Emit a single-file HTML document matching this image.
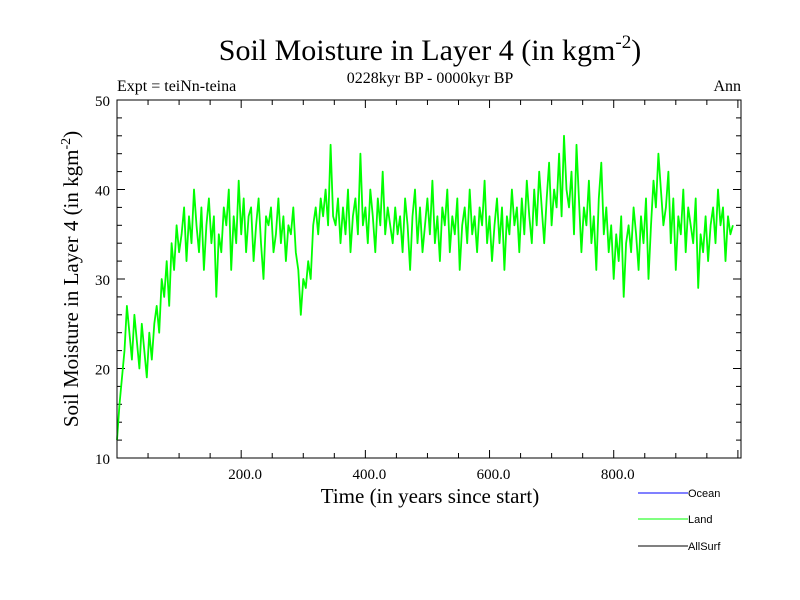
<!DOCTYPE html>
<html><head><meta charset="utf-8"><style>
body{margin:0;background:#fff;}
svg{display:block;font-family:"Liberation Serif",serif;}
.sans{font-family:"Liberation Sans",sans-serif;}
</style></head><body>
<svg id="chart" width="800" height="600" viewBox="0 0 800 600">
<rect width="800" height="600" fill="#fff"/>
<text x="430" y="60" font-size="30" text-anchor="middle">Soil Moisture in Layer 4 (in kgm<tspan dy="-12" font-size="19">-2</tspan><tspan dy="12">)</tspan></text>
<text x="117" y="91" font-size="16">Expt = teiNn-teina</text>
<text x="430" y="83" font-size="16" text-anchor="middle">0228kyr BP - 0000kyr BP</text>
<text x="741" y="91" font-size="16" text-anchor="end">Ann</text>
<g id="grid"></g>
<polyline id="land" fill="none" stroke="#00ff00" stroke-width="1.8" stroke-linejoin="round"/>
<rect x="117" y="100" width="624" height="358" fill="none" stroke="#000" stroke-width="1"/>
<text x="430" y="503" font-size="21" text-anchor="middle">Time (in years since start)</text>
<text transform="translate(78,279) rotate(-90)" font-size="21" text-anchor="middle">Soil Moisture in Layer 4 (in kgm<tspan dy="-8" font-size="14">-2</tspan><tspan dy="8">)</tspan></text>
<g class="sans" font-size="11">
<line x1="638" y1="493" x2="688" y2="493" stroke="#0000ff"/>
<text x="688" y="497">Ocean</text>
<line x1="638" y1="519" x2="688" y2="519" stroke="#00ff00"/>
<text x="688" y="523">Land</text>
<line x1="638" y1="546" x2="688" y2="546" stroke="#000"/>
<text x="688" y="550">AllSurf</text>
</g>
</svg>
<script>
const xTicks=[200,400,600,800];
const xTickLabels=["200.0","400.0","600.0","800.0"];
const yTicks=[10,20,30,40,50];
const yTickLabels=["10","20","30","40","50"];
const landStep=4;
const landValues=[12,16,19,22,27,24,21,26,23,20,25,22,19,24,21,25,27,24,30,28,32,27,34,31,36,33,
35,38,32,37,34,40,36,33,38,31,36,39,34,37,28,35,33,38,36,40,31,37,34,41,35,39,33,37,38,32,36,39,34,30,37,36,38,33,35,39,34,37,32,36,35,38,33,
31,26,30,29,32,30,
36,38,35,39,37,40,36,45,
37,36,39,34,38,35,40,33,37,39,35,44,36,38,34,40,37,33,39,36,42,35,38,36,34,38,35,37,33,39,36,31,37,40,34,38,33,36,39,35,41,34,37,32,38,36,40,33,37,35,39,31,36,38,34,40,35,37,33,38,36,41,34,37,32,36,39,34,38,31,37,35,40,36,38,33,39,35,41,37,34,40,36,42,38,34,39,43,36,40,38,44,37,46,40,38,42,35,45,39,33,38,36,41,34,37,31,39,43,35,38,33,36,30,35,32,37,28,34,36,33,38,35,31,37,34,39,30,36,41,38,44,40,36,38,42,34,39,31,37,35,40,33,38,36,34,39,29,35,33,37,32,36,38,34,40,36,38,32,37,35,36];
const X0=117,X1=741,Y0=458,Y1=100,XMIN=0,XMAX=1005,YMIN=10,YMAX=50;
const xs=v=>X0+(v-XMIN)/(XMAX-XMIN)*(X1-X0);
const ys=v=>Y0-(v-YMIN)/(YMAX-YMIN)*(Y0-Y1);
const NS="http://www.w3.org/2000/svg";
const g=document.getElementById('grid');
function mk(tag,attrs){const e=document.createElementNS(NS,tag);for(const k in attrs)e.setAttribute(k,attrs[k]);g.appendChild(e);return e;}
for(let v=0;v<=XMAX;v+=50){const x=xs(v);const L=v%200===0?8:5;
 const t1=mk('line',{x1:x,x2:x,y1:Y0,y2:Y0-L,stroke:'#000'});
 
 
 const t2=mk('line',{x1:x,x2:x,y1:Y1,y2:Y1+L,stroke:'#000'});
 
 }
for(let v=YMIN;v<=YMAX;v+=2){const y=ys(v);const L=v%10===0?8:5;
 const t1=mk('line',{x1:X0,x2:X0+L,y1:y,y2:y,stroke:'#000'});
 
 
 const t2=mk('line',{x1:X1,x2:X1-L,y1:y,y2:y,stroke:'#000'});
 
 }
xTicks.forEach((v,i)=>{const t=mk('text',{x:xs(v)+4,y:479,'font-size':15,'text-anchor':'middle'});t.textContent=xTickLabels[i];
 
 });
yTicks.forEach((v,i)=>{const t=mk('text',{x:110,y:ys(v)+6,'font-size':15,'text-anchor':'end'});t.textContent=yTickLabels[i];
 
 });
const pts=landValues.map((v,i)=>xs(Math.min(i*landStep,XMAX)).toFixed(1)+','+ys(v).toFixed(1)).join(' ');
document.getElementById('land').setAttribute('points',pts);
</script>
</body></html>
